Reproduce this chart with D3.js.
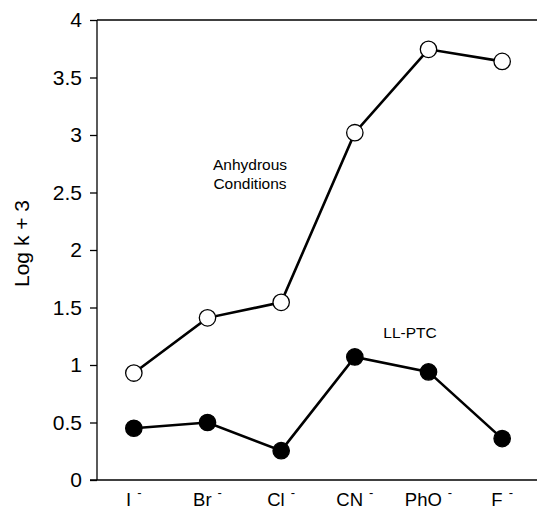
<!DOCTYPE html>
<html>
<head>
<meta charset="utf-8">
<script src="https://cdn.jsdelivr.net/npm/d3@7"></script>
<style>
  html, body { margin: 0; padding: 0; background: #fff; }
  svg { display: block; font-family: "Liberation Sans", Arial, Helvetica, sans-serif; }
</style>
</head>
<body>
<svg id="chart" width="537" height="508"></svg>
<script>
const categories = ["I", "Br", "Cl", "CN", "PhO", "F"];
const charge = "-";
const anhydrous = [0.93, 1.41, 1.545, 3.02, 3.745, 3.64];
const llptc = [0.45, 0.50, 0.255, 1.07, 0.94, 0.36];
const yTicks = [0, 0.5, 1, 1.5, 2, 2.5, 3, 3.5, 4];
const yTickLabels = ["0", "0.5", "1", "1.5", "2", "2.5", "3", "3.5", "4"];

const svg = d3.select("#chart");
const mLeft = 97, mTop = 20, mBottom = 480, mRight = 539;
const FONT = "Liberation Sans, Arial, sans-serif";

const x = d3.scaleBand().domain(categories).range([mLeft, mRight]).paddingInner(0).paddingOuter(0);
const y = d3.scaleLinear().domain([0, 4]).range([mBottom, mTop]);
const cx = d => x(d) + x.bandwidth() / 2;

// Y axis
const yAxis = svg.append("g").attr("transform", `translate(${mLeft},0)`)
  .call(d3.axisLeft(y).tickValues(yTicks).tickSize(7).tickPadding(8)
    .tickFormat((d, i) => yTickLabels[i]));
yAxis.select(".domain").attr("stroke", "#000").attr("stroke-width", 1.3).attr("d", `M0,${mTop}V${mBottom}`);
yAxis.selectAll(".tick line").attr("stroke", "#000").attr("stroke-width", 1.3);
yAxis.selectAll(".tick text").attr("font-size", 21).attr("fill", "#000")
  .attr("font-family", FONT);

// X axis
const xAxis = svg.append("g").attr("transform", `translate(0,${mBottom})`)
  .call(d3.axisBottom(x).tickSize(0).tickPadding(13));
xAxis.select(".domain").attr("stroke", "#000").attr("stroke-width", 1.3).attr("d", `M${mLeft - 7},0H${mRight}`);
xAxis.selectAll(".tick text").each(function(d) {
  const t = d3.select(this);
  t.text(null).attr("font-size", 18.5).attr("fill", "#000")
    .attr("font-family", FONT)
    .attr("text-anchor", "middle");
  t.append("tspan").text(d);
  t.append("tspan").attr("dx", 6).attr("dy", -9).attr("font-size", 13).text(charge);
});

// top frame line
svg.append("line").attr("x1", mLeft).attr("x2", mRight).attr("y1", mTop).attr("y2", mTop)
  .attr("stroke", "#000").attr("stroke-width", 1.3);

// Y title
svg.append("text")
  .attr("transform", `translate(29,243.5) rotate(-90)`)
  .attr("text-anchor", "middle").attr("font-size", 21).attr("fill", "#000")
  .attr("font-family", FONT)
  .text("Log k + 3");

const line = d3.line().x((d, i) => cx(categories[i])).y(d => y(d));

function drawSeries(vals, fill) {
  svg.append("path").datum(vals).attr("d", line)
    .attr("fill", "none").attr("stroke", "#000").attr("stroke-width", 2.6);
  svg.append("g").selectAll("circle").data(vals).join("circle")
    .attr("cx", (d, i) => cx(categories[i])).attr("cy", d => y(d))
    .attr("r", 8.2).attr("fill", fill).attr("stroke", "#000").attr("stroke-width", 1.3);
}
drawSeries(anhydrous, "#fff");
drawSeries(llptc, "#000");

// annotations
const ann = svg.append("g").attr("font-size", 15.5).attr("fill", "#000")
  .attr("font-family", FONT).attr("text-anchor", "middle");
ann.append("text").attr("x", 250).attr("y", 170).text("Anhydrous");
ann.append("text").attr("x", 250).attr("y", 189).text("Conditions");
ann.append("text").attr("x", 410).attr("y", 338).text("LL-PTC");
</script>
</body>
</html>
